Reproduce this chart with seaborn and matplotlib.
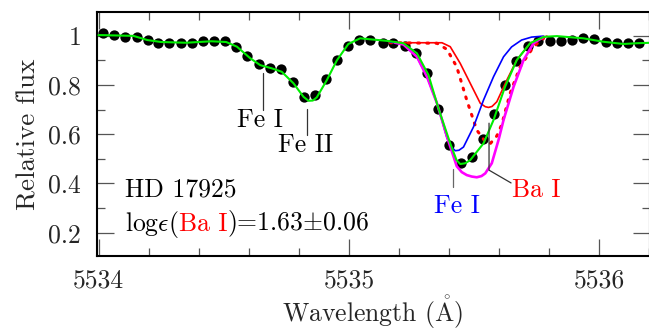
import matplotlib
matplotlib.use("Agg")
import matplotlib.pyplot as plt
import seaborn as sns
import pandas as pd
from matplotlib.offsetbox import TextArea, HPacker, AnnotationBbox
from matplotlib.ticker import FixedLocator, FixedFormatter, MultipleLocator

# Observed spectrum (normalised flux)
obs_wave = [5534.017, 5534.062, 5534.106, 5534.153, 5534.196, 5534.239, 5534.283,
            5534.329, 5534.373, 5534.417, 5534.462, 5534.506, 5534.550, 5534.595,
            5534.643, 5534.686, 5534.730, 5534.776, 5534.821, 5534.865, 5534.909,
            5534.952, 5534.998, 5535.042, 5535.085, 5535.136, 5535.178, 5535.225,
            5535.269, 5535.314, 5535.358, 5535.402, 5535.447, 5535.491, 5535.535,
            5535.580, 5535.624, 5535.668, 5535.714, 5535.757, 5535.804, 5535.847,
            5535.891, 5535.937, 5535.980, 5536.028, 5536.071, 5536.117, 5536.161]
obs_flux = [1.013, 1.004, 0.996, 0.994, 0.983, 0.970, 0.970,
            0.972, 0.972, 0.978, 0.980, 0.978, 0.953, 0.918,
            0.885, 0.870, 0.864, 0.813, 0.750, 0.759, 0.824,
            0.902, 0.959, 0.983, 0.983, 0.972, 0.970, 0.959,
            0.931, 0.850, 0.701, 0.556, 0.484, 0.506, 0.579,
            0.681, 0.800, 0.899, 0.959, 0.980, 0.980, 0.980,
            0.983, 0.990, 0.986, 0.976, 0.970, 0.970, 0.970]

# Best-fit synthesis
fit_wave = [5534.000, 5534.013, 5534.139, 5534.195, 5534.250, 5534.350, 5534.450,
            5534.510, 5534.553, 5534.606, 5534.646, 5534.692, 5534.732, 5534.779,
            5534.819, 5534.839, 5534.856, 5534.872, 5534.912, 5534.952, 5534.998,
            5535.045, 5535.085, 5535.150, 5535.218, 5535.272, 5535.318, 5535.358,
            5535.405, 5535.430, 5535.445, 5535.465, 5535.485, 5535.538, 5535.578,
            5535.624, 5535.671, 5535.724, 5535.778, 5535.831, 5535.937, 5536.017,
            5536.097, 5536.150, 5536.210]
fit_flux = [1.003, 1.003, 1.000, 0.983, 0.975, 0.972, 0.978,
            0.975, 0.956, 0.909, 0.881, 0.868, 0.854, 0.807,
            0.752, 0.736, 0.737, 0.750, 0.820, 0.900, 0.967,
            0.990, 0.986, 0.980, 0.970, 0.929, 0.841, 0.705,
            0.563, 0.495, 0.479, 0.482, 0.495, 0.563, 0.658,
            0.793, 0.902, 0.970, 0.996, 0.999, 0.990, 0.976,
            0.967, 0.970, 0.972]

# Synthesis with the Fe I blend only
fe_wave = [5535.165, 5535.218, 5535.272, 5535.312, 5535.352, 5535.392, 5535.410,
           5535.425, 5535.440, 5535.458, 5535.498, 5535.538, 5535.578, 5535.618,
           5535.650, 5535.690, 5535.730, 5535.778]
fe_flux = [0.975, 0.965, 0.915, 0.834, 0.726, 0.585, 0.548,
           0.533, 0.535, 0.548, 0.630, 0.739, 0.834, 0.915,
           0.955, 0.983, 0.995, 0.999]

# Synthesis with the Ba I line only
ba_wave = [5535.165, 5535.372, 5535.405, 5535.445, 5535.485, 5535.525, 5535.545,
           5535.558, 5535.572, 5535.591, 5535.631, 5535.671, 5535.724, 5535.791]
ba_flux = [0.972, 0.972, 0.956, 0.888, 0.807, 0.726, 0.712,
           0.709, 0.713, 0.732, 0.820, 0.902, 0.970, 0.999]

# Ba I line shifted (dotted)
bad_wave = [5535.165, 5535.352, 5535.392, 5535.431, 5535.471, 5535.511, 5535.545,
            5535.565, 5535.591, 5535.611, 5535.644, 5535.684, 5535.738, 5535.778]
bad_flux = [0.972, 0.970, 0.945, 0.874, 0.739, 0.617, 0.570,
            0.562, 0.593, 0.640, 0.766, 0.874, 0.956, 0.990]

# Upper-abundance synthesis
up_wave = [5535.185, 5535.218, 5535.272, 5535.312, 5535.352, 5535.392, 5535.431,
           5535.451, 5535.471, 5535.491, 5535.511, 5535.530, 5535.545, 5535.571,
           5535.598, 5535.618, 5535.658, 5535.698, 5535.738, 5535.778]
up_flux = [0.972, 0.965, 0.915, 0.834, 0.726, 0.590, 0.470,
           0.446, 0.434, 0.428, 0.425, 0.430, 0.441, 0.482,
           0.577, 0.658, 0.793, 0.902, 0.970, 0.996]

# Line identifications: wavelength, pointer extent, label position
fe1a_wave, fe1a_ptr, fe1a_txt = 5534.658, (0.849, 0.698), (5534.644, 0.629)
fe2_wave, fe2_ptr, fe2_txt = 5534.833, (0.702, 0.597), (5534.829, 0.529)
fe1b_wave, fe1b_ptr, fe1b_txt = 5535.417, (0.459, 0.385), (5535.433, 0.278)
ba_line_wave, ba_ptr, ba_txt = 5535.560, (0.645, 0.454, 5535.648, 0.402), (5535.750, 0.345)

xticks = [5534, 5535, 5536]
xtick_labels = ["5534", "5535", "5536"]
yticks = [0.2, 0.4, 0.6, 0.8, 1.0]
ytick_labels = ["0.2", "0.4", "0.6", "0.8", "1"]

sns.set_style("ticks")
FONT = "cmr10"
plt.rcParams.update({
    "font.family": [FONT, "DejaVu Serif"],
    "mathtext.fontset": "cm",
    "axes.formatter.use_mathtext": True,
    "font.size": 18.5,
    "axes.unicode_minus": False,
})

fig = plt.figure(figsize=(6.49, 3.33), dpi=100)
ax = fig.add_axes([96.5 / 649, 77 / 333, 553 / 649, 244 / 333])

sns.scatterplot(x=obs_wave, y=obs_flux, ax=ax, color="black", s=55,
                linewidth=0, zorder=2)
sns.lineplot(x=bad_wave, y=bad_flux, ax=ax, color="#ff0000", lw=2.2,
             linestyle=(0, (0.6, 2.4)), dash_capstyle="round", zorder=3)
sns.lineplot(x=ba_wave, y=ba_flux, ax=ax, color="#ff0000", lw=1.2, zorder=3)
sns.lineplot(x=fe_wave, y=fe_flux, ax=ax, color="#0000ff", lw=1.2, zorder=4)
sns.lineplot(x=up_wave, y=up_flux, ax=ax, color="#ff00ff", lw=1.9, zorder=5)
sns.lineplot(x=fit_wave, y=fit_flux, ax=ax, color="#00ee00", lw=1.5, zorder=6)

ax.set_xlim(5533.992, 5536.201)
ax.set_ylim(0.105, 1.097)

ax.xaxis.set_major_locator(FixedLocator(xticks))
ax.xaxis.set_major_formatter(FixedFormatter(xtick_labels))
ax.xaxis.set_minor_locator(MultipleLocator(0.2))
ax.yaxis.set_major_locator(FixedLocator(yticks))
ax.yaxis.set_major_formatter(FixedFormatter(ytick_labels))
ax.yaxis.set_minor_locator(MultipleLocator(0.1))
ax.tick_params(which="both", direction="in", top=True, right=True,
               color="#555555", width=0.9, labelsize=18.5)
ax.tick_params(which="major", length=12)
ax.tick_params(which="minor", length=5.5)
ax.tick_params(axis="x", pad=9)
ax.tick_params(axis="y", pad=11)
for side in ["left", "bottom", "top", "right"]:
    ax.spines[side].set_linewidth(1.5)
    ax.spines[side].set_color("black")

ax.set_xlabel(r"Wavelength ($\mathring{\mathrm{A}}$)", fontsize=18.5, labelpad=1)
ax.set_ylabel("Relative flux", fontsize=19.5, labelpad=6)

# line identifications
lc = "#333333"
ax.plot([fe1a_wave, fe1a_wave], fe1a_ptr, color=lc, lw=0.9, zorder=7)
ax.text(*fe1a_txt, "Fe I", ha="center", va="baseline", color="black")
ax.plot([fe2_wave, fe2_wave], fe2_ptr, color=lc, lw=0.9, zorder=7)
ax.text(*fe2_txt, "Fe II", ha="center", va="baseline", color="black")
ax.plot([fe1b_wave, fe1b_wave], fe1b_ptr, color="#666666", lw=0.9, zorder=7)
ax.text(*fe1b_txt, "Fe I", ha="center", va="baseline", color="#0000ff")
ax.plot([ba_line_wave, ba_line_wave, ba_ptr[2]], [ba_ptr[0], ba_ptr[1], ba_ptr[3]],
        color=lc, lw=0.9, zorder=7)
ax.text(*ba_txt, "Ba I", ha="center", va="baseline", color="#ff0000")

ax.text(5534.105, 0.345, "HD 17925", ha="left", va="baseline", color="black")

parts = [TextArea(r"log$\epsilon$(", textprops=dict(color="black", fontsize=18.5)),
         TextArea("Ba I", textprops=dict(color="#ff0000", fontsize=18.5)),
         TextArea(r")=1.63$\pm$0.06", textprops=dict(color="black", fontsize=18.5))]
box = HPacker(children=parts, align="baseline", pad=0, sep=0)
ab = AnnotationBbox(box, (5534.105, 0.172), xycoords="data", box_alignment=(0, 0),
                    frameon=False, pad=0)
ax.add_artist(ab)

fig.savefig("out.png", dpi=100)
